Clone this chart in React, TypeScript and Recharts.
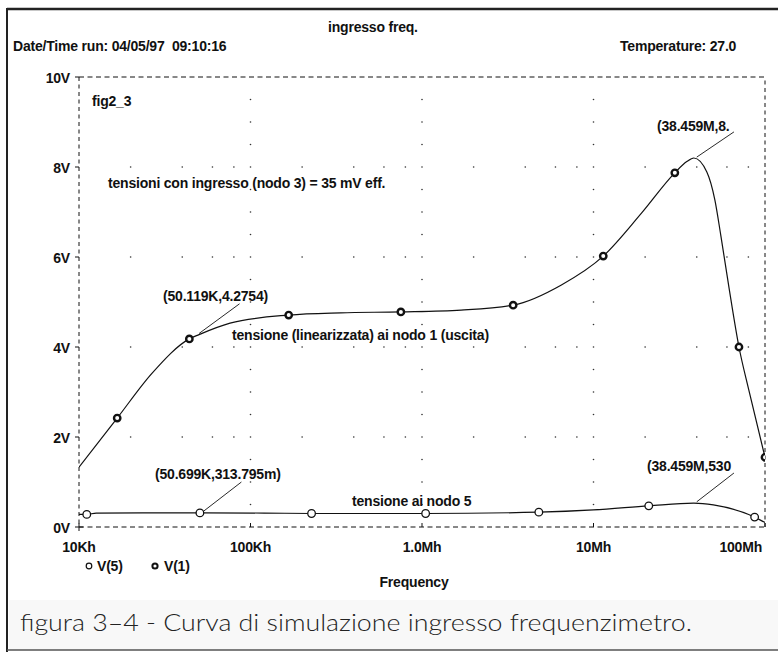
import React from 'react';
import { ComposedChart, Line, Scatter, XAxis, YAxis, ReferenceLine, ReferenceDot } from 'recharts';

// ---------- data ----------
const xTicks = [1e4, 1e5, 1e6, 1e7, 1e8];
const xTickLabels = ['10Kh', '100Kh', '1.0Mh', '10Mh', '100Mh'];
const yTicks = [0, 2, 4, 6, 8, 10];
const yTickLabels = ['0V', '2V', '4V', '6V', '8V', '10V'];

// V(1): tensione (linearizzata) al nodo 1
const v1Freq = [1e4, 1.67e4, 2.67e4, 4.4e4, 5.0119e4, 7.6e4, 1.67e5, 3.36e5, 7.53e5, 1.69e6, 3.4e6, 6.5e6, 1.14e7, 1.91e7, 2.98e7, 3.5e7, 3.8459e7, 4.58e7, 5.1e7, 5.53e7, 6.16e7, 7.05e7, 8.05e7, 1e8];
const v1Volt = [1.33, 2.42, 3.42, 4.18, 4.2754, 4.53, 4.71, 4.76, 4.78, 4.82, 4.93, 5.38, 6.02, 6.98, 7.87, 8.12, 8.2, 7.89, 7.27, 6.47, 5.33, 4.0, 3.04, 1.55];
const v1MarkFreq = [1.67e4, 4.4e4, 1.67e5, 7.53e5, 3.4e6, 1.14e7, 2.98e7, 7.05e7, 1e8];
const v1MarkVolt = [2.42, 4.18, 4.71, 4.78, 4.93, 6.02, 7.87, 4.0, 1.55];

// V(5): tensione al nodo 5
const v5Freq = [1e4, 1.11e4, 1.26e4, 5.0699e4, 1.2e5, 2.27e5, 1.05e6, 4.8e6, 1e7, 2.1e7, 3.8459e7, 5e7, 8.7e7, 1e8];
const v5Volt = [0.28, 0.28, 0.31, 0.3138, 0.31, 0.3, 0.3, 0.33, 0.38, 0.47, 0.53, 0.49, 0.22, 0.1];
const v5MarkFreq = [1.11e4, 5.0699e4, 2.27e5, 1.05e6, 4.8e6, 2.1e7, 8.7e7];
const v5MarkVolt = [0.28, 0.3138, 0.3, 0.3, 0.33, 0.47, 0.22];

// annotation leader lines [freq, volt] start -> end
const leaderV1Low = [[5.0119e4, 4.3], [8.63e4, 4.96]];
const leaderV1Peak = [[4.0e7, 8.22], [6.59e7, 8.78]];
const leaderV5Low = [[5.24e4, 0.33], [8.85e4, 1.0]];
const leaderV5Peak = [[4.0e7, 0.56], [6.59e7, 1.2]];

// grid structure
const gridMultipliers = [2, 4, 6, 8, 10];
const gridDecades = [1e4, 1e5, 1e6, 1e7];
const gridHLevels = [2, 4, 6, 8];
const gridVLines = [1e5, 1e6, 1e7];

const v1Data = v1Freq.map((f, i) => ({ f, v: v1Volt[i] }));
const v5Data = v5Freq.map((f, i) => ({ f, v: v5Volt[i] }));
const v1Marks = v1MarkFreq.map((f, i) => ({ f, v: v1MarkVolt[i] }));
const v5Marks = v5MarkFreq.map((f, i) => ({ f, v: v5MarkVolt[i] }));

const hDots: { x: number; y: number }[] = [];
gridHLevels.forEach((y) => gridDecades.forEach((d) => gridMultipliers.forEach((m) => {
  if (d * m < 1e8) hDots.push({ x: d * m, y });
})));
const vDots: { x: number; y: number }[] = [];
gridVLines.forEach((x) => {
  for (let k = 1; k < 20; k++) {
    const y = k * 0.5;
    if (!gridHLevels.includes(y)) vDots.push({ x, y });
  }
});

// ---------- style ----------
const FONT = '"Liberation Sans", Arial, Helvetica, sans-serif';
const FS = 14;
const LS = -0.2;
const INK = '#111';

const XTick = (props: any) => {
  const { x, y, payload } = props;
  const idx = xTicks.indexOf(payload.value);
  const last = idx === xTicks.length - 1;
  return (
    <g>
      {idx > 0 && <line x1={x} x2={x} y1={y} y2={y - 4} stroke={INK} strokeWidth={1} />}
      <text x={last ? x - 3 : x} y={y + 25} textAnchor={last ? 'end' : 'middle'} fontFamily={FONT} fontWeight="bold" fontSize={FS} fill={INK} letterSpacing={LS}>
        {xTickLabels[idx]}
      </text>
    </g>
  );
};

const YTick = (props: any) => {
  const { x, y, payload } = props;
  const idx = yTicks.indexOf(payload.value);
  return (
    <g>
      {payload.value === 0 ? (
        <g>
          <line x1={x - 4} x2={x + 4} y1={y} y2={y} stroke={INK} strokeWidth={1} />
          <line x1={x} x2={x} y1={y - 4} y2={y + 4} stroke={INK} strokeWidth={1} />
        </g>
      ) : (
        <line x1={x - 4} x2={x} y1={y} y2={y} stroke={INK} strokeWidth={1} />
      )}
      <text x={x - 9} y={y + 5.5} textAnchor="end" fontFamily={FONT} fontWeight="bold" fontSize={FS} fill={INK} letterSpacing={LS}>
        {yTickLabels[idx]}
      </text>
    </g>
  );
};

const V1Marker = (p: any) => (
  <circle cx={p.cx} cy={p.cy} r={3.2} fill="#fff" stroke={INK} strokeWidth={2.4} />
);
const V5Marker = (p: any) => (
  <circle cx={p.cx} cy={p.cy} r={3.8} fill="#fff" stroke={INK} strokeWidth={1.3} />
);

const T = (props: any) => (
  <text fontFamily={FONT} fontWeight="bold" fontSize={FS} fill={INK} letterSpacing={LS} {...props} />
);

export default function App() {
  return (
    <div style={{ position: 'absolute', left: 0, top: 0, width: 778, height: 652, background: '#fff', overflow: 'hidden' }}>
      <svg width={778} height={652} style={{ position: 'absolute', left: 0, top: 0 }}>
        <rect x={9} y={600} width={769} height={50} fill="#f8f8f8" />
      </svg>
      <div style={{ position: 'absolute', left: 0, top: 0 }}>
        <ComposedChart width={778} height={652} margin={{ top: 77, right: 13, bottom: 0, left: 0 }}>
          <XAxis
            dataKey="f"
            type="number"
            scale="log"
            domain={[1e4, 1e8]}
            ticks={xTicks}
            allowDataOverflow
            interval={0}
            height={125}
            tickSize={0}
            tickMargin={0}
            tickLine={false}
            tick={(p: any) => <XTick {...p} />}
            axisLine={{ stroke: INK, strokeDasharray: '5 3.5', strokeWidth: 1 }}
          />
          <YAxis
            type="number"
            domain={[0, 10]}
            ticks={yTicks}
            allowDataOverflow
            interval={0}
            width={79}
            tickSize={0}
            tickMargin={0}
            tickLine={false}
            tick={(p: any) => <YTick {...p} />}
            axisLine={{ stroke: INK, strokeDasharray: '4 3.5', strokeWidth: 1 }}
          />
          <ReferenceLine y={10} stroke={INK} strokeDasharray="5 3.5" strokeWidth={1} ifOverflow="visible" />
          <ReferenceLine x={1e8} stroke={INK} strokeDasharray="4 3.5" strokeWidth={1} ifOverflow="visible" />
          {hDots.map((d, i) => (
            <ReferenceDot key={'h' + i} x={d.x} y={d.y} r={0.8} fill="#333" stroke="none" ifOverflow="visible" />
          ))}
          {vDots.map((d, i) => (
            <ReferenceDot key={'v' + i} x={d.x} y={d.y} r={0.8} fill="#333" stroke="none" ifOverflow="visible" />
          ))}
          {[leaderV1Low, leaderV1Peak, leaderV5Low, leaderV5Peak].map((s, i) => (
            <ReferenceLine
              key={'l' + i}
              segment={[{ x: s[0][0], y: s[0][1] }, { x: s[1][0], y: s[1][1] }]}
              stroke={INK}
              strokeWidth={0.9}
              ifOverflow="visible"
            />
          ))}
          <Line data={v1Data} dataKey="v" type="monotone" stroke={INK} strokeWidth={1.2} dot={false} activeDot={false} isAnimationActive={false} />
          <Line data={v5Data} dataKey="v" type="monotone" stroke={INK} strokeWidth={1.2} dot={false} activeDot={false} isAnimationActive={false} />
          <Scatter data={v1Marks} dataKey="v" shape={V1Marker} isAnimationActive={false} />
          <Scatter data={v5Marks} dataKey="v" shape={V5Marker} isAnimationActive={false} />
        </ComposedChart>
      </div>
      <svg width={778} height={652} style={{ position: 'absolute', left: 0, top: 0, pointerEvents: 'none' }}>
        {/* frame */}
        <line x1={7} y1={9} x2={778} y2={9} stroke="#222" strokeWidth={2.5} />
        <line x1={7} y1={8} x2={7} y2={652} stroke="#222" strokeWidth={2} />
        <line x1={7} y1={650} x2={778} y2={650} stroke="#555" strokeWidth={1.5} />
        {/* header */}
        <T x={328} y={32}>ingresso freq.</T>
        <T x={13} y={51}>{'Date/Time run: 04/05/97\u00a0\u00a009:10:16'}</T>
        <T x={620} y={51}>Temperature: 27.0</T>
        {/* inner annotations */}
        <T x={92} y={106}>fig2_3</T>
        <T x={108} y={188}>tensioni con ingresso (nodo 3) = 35 mV eff.</T>
        <T x={163} y={301}>(50.119K,4.2754)</T>
        <T x={232} y={340}>tensione (linearizzata) ai nodo 1 (uscita)</T>
        <T x={657} y={131}>(38.459M,8.</T>
        <T x={155} y={479}>(50.699K,313.795m)</T>
        <T x={352} y={506}>tensione ai nodo 5</T>
        <T x={647} y={471}>(38.459M,530</T>
        {/* legend */}
        <circle cx={89} cy={566} r={2.8} fill="#fff" stroke={INK} strokeWidth={1.2} />
        <T x={97} y={571}>V(5)</T>
        <circle cx={155} cy={566} r={2.6} fill="#fff" stroke={INK} strokeWidth={2} />
        <T x={164} y={571}>V(1)</T>
        <T x={414} y={587} textAnchor="middle">Frequency</T>
        {/* caption */}
        <text x={20} y={631} fontFamily='Lato, "Open Sans", sans-serif' fontWeight={300} fontSize={23} fill="#222" textLength={672} lengthAdjust="spacingAndGlyphs">
          figura 3–4 - Curva di simulazione ingresso frequenzimetro.
        </text>
      </svg>
    </div>
  );
}
